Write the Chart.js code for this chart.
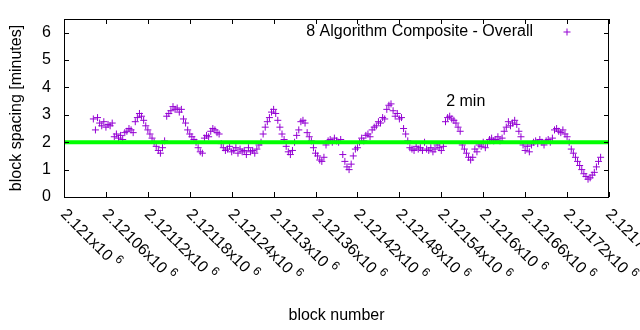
<!DOCTYPE html>
<html>
<head>
<meta charset="utf-8">
<script src="https://cdn.jsdelivr.net/npm/chart.js@4.4.1/dist/chart.umd.min.js"></script>
<style>
    body { margin: 0; background: #fff; }
    #wrap { width: 640px; height: 330px; }
</style>
</head>
<body>
<div id="wrap"><canvas id="chart"></canvas></div>
<script>
// block numbers of the samples: first block and step between samples
const firstBlock = 2121042
const blockStep = 3

// block spacing in minutes
const spacing = [
    2.85, 2.45, 2.9, 2.7, 2.6, 2.75, 2.55, 2.65, 2.6, 2.7,
    2.2, 2.3, 2.15, 2.25, 2.1, 2.35, 2.4, 2.5, 2.45, 2.35,
    2.75, 2.9, 3.05, 2.95, 2.8, 2.6, 2.45, 2.3, 2.15, 2.0,
    1.85, 1.7, 1.6, 1.8, 2.05, 2.95, 3.05, 3.15, 3.3, 3.2,
    3.25, 3.1, 3.2, 2.85, 2.7, 2.45, 2.3, 2.2, 2.1, 2.0,
    1.8, 1.65, 1.6, 2.15, 2.25, 2.2, 2.4, 2.5, 2.45, 2.35,
    2.3, 1.95, 1.8, 1.7, 1.75, 1.85, 1.65, 1.7, 1.8, 1.6,
    1.75, 1.65, 1.7, 1.55, 1.8, 1.65, 1.7, 1.6, 1.75, 1.9,
    2.0, 2.3, 2.55, 2.75, 2.9, 3.1, 3.2, 3.05, 2.8, 2.55,
    2.3, 2.1, 1.85, 1.65, 1.55, 1.7, 2.0, 2.25, 2.45, 2.75,
    2.8, 2.7, 2.35, 2.2, 2.05, 1.8, 1.6, 1.5, 1.35, 1.3,
    1.45, 1.9, 2.05, 2.1, 2.0, 2.15, 2.05, 2.0, 2.1, 1.55,
    1.3, 1.1, 1.0, 1.2, 1.5, 1.75, 1.8, 2.0, 2.15, 2.05,
    2.25, 2.3, 2.2, 2.45, 2.55, 2.6, 2.75, 2.7, 2.9, 2.85,
    3.2, 3.35, 3.4, 3.15, 2.95, 3.05, 2.85, 2.9, 2.5, 2.3,
    2.05, 1.8, 1.75, 1.7, 1.85, 1.75, 1.8, 1.7, 2.0, 1.75,
    1.7, 1.8, 1.65, 1.75, 1.9, 1.8, 1.7, 1.85, 2.75, 2.9,
    2.95, 2.85, 2.8, 2.7, 2.55, 2.4, 1.9, 1.75, 1.6, 1.45,
    1.35, 1.45, 1.75, 1.65, 1.9, 1.85, 2.0, 1.8, 1.95, 2.1,
    2.15, 2.05, 2.1, 2.2, 2.05, 2.15, 2.4, 2.55, 2.75, 2.6,
    2.7, 2.8, 2.65, 2.4, 2.2, 1.9, 1.7, 1.85, 1.65, 1.9,
    2.0, 2.05, 1.95, 2.1, 2.0, 1.9, 2.05, 2.1, 2.0, 2.15,
    2.45, 2.5, 2.4, 2.35, 2.45, 2.3, 2.2, 2.0, 1.75, 1.6,
    1.45, 1.3, 1.15, 1.0, 0.85, 0.75, 0.65, 0.7, 0.8, 0.9,
    1.1, 1.3, 1.45,
]

// x axis ticks and their labels (gnuplot style)
const xTicks = [
    2121000, 2121060, 2121120, 2121180, 2121240, 2121300, 2121360,
    2121420, 2121480, 2121540, 2121600, 2121660, 2121720, 2121780,
]
const xTickLabels = [
    '2.121x10', '2.12106x10', '2.12112x10', '2.12118x10', '2.12124x10',
    '2.1213x10', '2.12136x10', '2.12142x10', '2.12148x10', '2.12154x10',
    '2.1216x10', '2.12166x10', '2.12172x10', '2.12178x10',
]
const xTickExponent = '6'
const yTicks = [0, 1, 2, 3, 4, 5, 6]
const yTickLabels = ['0', '1', '2', '3', '4', '5', '6']

const targetSpacing = 2
const seriesName = '8 Algorithm Composite - Overall'
const noteText = '2 min'
const noteBlock = 2121547
const noteValue = 3.5

const purple = '#9400d3'
const font = '"Liberation Sans", Arial, sans-serif'

const points = spacing.map((v, i) => ({ x: firstBlock + i * blockStep, y: v }))

// frame, inward ticks, tick labels, legend and label, drawn like gnuplot
const gnuplotDecor = {
    id: 'gnuplotDecor',
    afterDraw(chart) {
        const { ctx, chartArea: a } = chart
        const x = chart.scales.x
        const y = chart.scales.y
        ctx.save()
        ctx.strokeStyle = '#000'
        ctx.lineWidth = 1
        ctx.strokeRect(a.left + 0.5, a.top + 0.5, a.right - a.left - 1, a.bottom - a.top)

        ctx.beginPath()
        xTicks.forEach((v) => {
            const px = Math.round(x.getPixelForValue(v)) + 0.5
            ctx.moveTo(px, a.bottom)
            ctx.lineTo(px, a.bottom - 5)
            ctx.moveTo(px, a.top)
            ctx.lineTo(px, a.top + 5)
        })
        yTicks.forEach((v) => {
            const py = Math.round(y.getPixelForValue(v)) + 0.5
            ctx.moveTo(a.left, py)
            ctx.lineTo(a.left + 5, py)
            ctx.moveTo(a.right, py)
            ctx.lineTo(a.right - 5, py)
        })
        ctx.stroke()

        ctx.fillStyle = '#000'

        // y tick labels
        ctx.font = '16px ' + font
        ctx.textAlign = 'right'
        ctx.textBaseline = 'middle'
        yTicks.forEach((v, i) => {
            ctx.fillText(yTickLabels[i], a.left - 13, y.getPixelForValue(v))
        })

        // rotated x tick labels
        ctx.textAlign = 'left'
        xTicks.forEach((v, i) => {
            ctx.save()
            ctx.translate(x.getPixelForValue(v) - 1, a.bottom + 15)
            ctx.rotate(Math.PI / 4)
            ctx.font = '16px ' + font
            ctx.fillText(xTickLabels[i], 0, 0)
            const w = ctx.measureText(xTickLabels[i] + ' ').width
            ctx.font = '12px ' + font
            ctx.fillText(xTickExponent, w, -6)
            ctx.restore()
        })

        // legend, gnuplot style: text then marker
        ctx.font = '16px ' + font
        ctx.textAlign = 'right'
        ctx.fillText(seriesName, 533, 32)
        ctx.strokeStyle = purple
        Chart.helpers.drawPoint(ctx, { pointStyle: 'cross', radius: 3.5, borderWidth: 1 }, 567, 32)

        // label at 2 minutes
        ctx.textAlign = 'left'
        ctx.fillText(noteText, x.getPixelForValue(noteBlock), y.getPixelForValue(noteValue))
        ctx.restore()
    },
}

new Chart(document.getElementById('chart'), {
    type: 'scatter',
    data: {
        datasets: [
            {
                type: 'line',
                data: [
                    { x: xTicks[0], y: targetSpacing },
                    { x: xTicks[xTicks.length - 1], y: targetSpacing },
                ],
                borderColor: '#00ff00',
                borderWidth: 4,
                pointRadius: 0,
                order: 0,
            },
            {
                label: seriesName,
                data: points,
                pointStyle: 'cross',
                pointRadius: 3.5,
                borderWidth: 1,
                borderColor: purple,
                backgroundColor: purple,
                order: 1,
            },
        ],
    },
    options: {
        responsive: true,
        maintainAspectRatio: false,
        animation: false,
        layout: { padding: { top: 19, right: 31, bottom: 0, left: 0 } },
        plugins: { legend: { display: false }, tooltip: { enabled: false } },
        scales: {
            x: {
                type: 'linear',
                min: xTicks[0],
                max: xTicks[xTicks.length - 1],
                grid: { display: false },
                border: { display: false },
                ticks: { display: false },
                title: {
                    display: true,
                    text: 'block number',
                    color: '#000',
                    font: { family: font, size: 16 },
                    padding: { top: 0, bottom: 5 },
                },
                afterFit: (s) => { s.height = 133 },
            },
            y: {
                min: 0,
                max: 6.5,
                grid: { display: false },
                border: { display: false },
                ticks: { display: false },
                title: {
                    display: true,
                    text: 'block spacing [minutes]',
                    color: '#000',
                    font: { family: font, size: 16 },
                    padding: { top: 7, bottom: 0 },
                },
                afterFit: (s) => { s.width = 64 },
            },
        },
    },
    plugins: [gnuplotDecor],
})
</script>
</body>
</html>
